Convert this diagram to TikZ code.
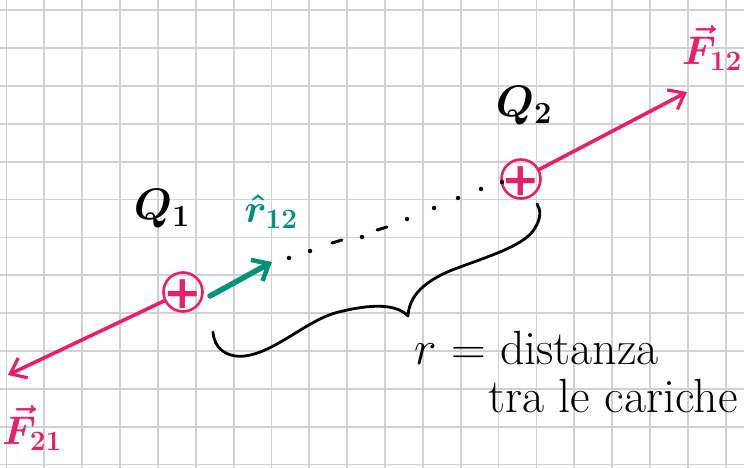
\RequirePackage{fix-cm}
\documentclass[tikz,border=0pt]{standalone}
\usepackage{fontspec}
\newfontfamily\plusfont{DejaVu Sans}
\newcommand{\chargesign}[1]{\smash{\raisebox{-0.36em}{\makebox[0pt]{#1}}}}
\usetikzlibrary{arrows.meta}
\definecolor{gridgray}{HTML}{D2D2D2}
\definecolor{chargepink}{HTML}{E8206A}
\definecolor{unitteal}{HTML}{00917C}
\begin{document}
\begin{tikzpicture}[x=1pt,y=-1pt,
  gridline/.style={draw=gridgray,line width=1.8pt},
  charge/.style={circle,draw=chargepink,line width=2.6pt,minimum size=39pt,inner sep=0pt,
     text=chargepink,font=\plusfont\bfseries\fontsize{46}{46}\selectfont},
  force/.style={draw=chargepink,line width=3.6pt,line cap=round,
     -{Straight Barb[length=14pt,width=22pt,line width=3.2pt]}},
  unitvec/.style={draw=unitteal,line width=5.5pt,line cap=round,
     -{Straight Barb[length=14pt,width=24pt,line width=4.5pt]}},
  dotmark/.style={circle,fill=black,inner sep=0pt,minimum size=4.5pt},
  brace/.style={draw=black,line width=2.8pt,line cap=round,line join=round},
  bigtext/.style={font=\fontsize{44}{44}\selectfont\boldmath,inner sep=0pt},
  vectext/.style={font=\fontsize{40}{40}\selectfont\boldmath,inner sep=0pt},
  handtext/.style={font=\fontsize{48}{52}\selectfont,anchor=base west,inner sep=0pt}]
\useasboundingbox (0,0) rectangle (744,468);
\fill[white] (0,0) rectangle (744,468);
% grid paper
\foreach \i in {0,...,19} \draw[gridline] ({6.5+37.85*\i},0) -- ({6.5+37.85*\i},468);
\foreach \j in {0,...,12} \draw[gridline] (0,{10.3+37.85*\j}) -- (744,{10.3+37.85*\j});
% charges
\node[charge] (q1) at (183,292) {\chargesign{+}};
\node[charge] (q2) at (521,179) {\chargesign{+}};
% labels of charges
\node[bigtext] (lq1) at (162,209) {$Q_1$};
\node[bigtext] (lq2) at (524,106) {$Q_2$};
% forces
\coordinate (f21end) at (8,375);
\coordinate (f12end) at (687,92);
\draw[force] (q1) -- (f21end);
\draw[force] (q2) -- (f12end);
\node[vectext,text=chargepink] (lf12) at (712,48) {$\vec{F}_{12}$};
\node[vectext,text=chargepink] (lf21) at (32,428) {$\vec{F}_{21}$};
% unit vector
\coordinate (u0) at (210,296);
\coordinate (u1) at (272,262);
\draw[unitvec] (u0) -- (u1);
\node[vectext,text=unitteal] (lr12) at (271,212) {$\hat{r}_{12}$};
% dotted distance
\foreach \p [count=\k] in {(289,258),(310,251),(362,237),(407,219),(434,208),(458,198),(481,189),(502,182)}
  \node[dotmark] (d\k) at \p {};
\draw[black,line width=3pt,line cap=round] (332,243) -- (342,240);
\draw[black,line width=3pt,line cap=round] (377,230) -- (387,227);
% brace
\draw[brace] (213,332) .. controls (214,348) and (226,358) .. (245,356)
  .. controls (275,352) and (305,322) .. (335,313)
  .. controls (365,305) and (395,302) .. (408,316)
  .. controls (409,300) and (418,284) .. (452,270)
  .. controls (495,254) and (525,245) .. (535,228)
  .. controls (541,218) and (541,210) .. (537,204);
% description
\node[handtext] (t1) at (414,364) {$r$ = distanza};
\node[handtext] (t2) at (488,412) {tra le cariche};
\end{tikzpicture}
\end{document}
